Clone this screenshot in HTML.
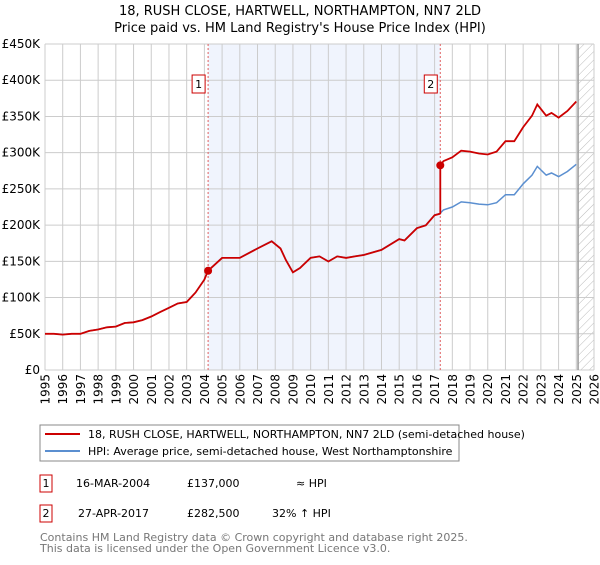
<!DOCTYPE html>
<html><head><meta charset="utf-8"><style>
body{margin:0;background:#fff;font-family:"Liberation Sans","DejaVu Sans",sans-serif}
svg text{font-family:"DejaVu Sans","Liberation Sans",sans-serif}
</style></head><body>
<svg id="chart" width="600" height="560" viewBox="0 0 600 560" xmlns="http://www.w3.org/2000/svg">
<defs><pattern id="hatch" width="6" height="6" patternUnits="userSpaceOnUse" patternTransform="rotate(45)"><line x1="0" y1="0" x2="0" y2="6" stroke="#bbb" stroke-width="1"/></pattern></defs>
<text x="300" y="15" text-anchor="middle" font-size="13" fill="#000">18, RUSH CLOSE, HARTWELL, NORTHAMPTON, NN7 2LD</text>
<text x="300" y="32" text-anchor="middle" font-size="13" fill="#000">Price paid vs. HM Land Registry's House Price Index (HPI)</text>
<g id="plot"></g>
<rect x="40" y="425" width="419" height="36" fill="#fff" stroke="#888"/>
<line x1="45" y1="434" x2="80" y2="434" stroke="#cc0000" stroke-width="2"/>
<text x="88" y="438" font-size="11">18, RUSH CLOSE, HARTWELL, NORTHAMPTON, NN7 2LD (semi-detached house)</text>
<line x1="45" y1="451" x2="80" y2="451" stroke="#5b8fd0" stroke-width="2"/>
<text x="88" y="455" font-size="11">HPI: Average price, semi-detached house, West Northamptonshire</text>
<g>
<rect x="40" y="475" width="12" height="17" fill="#fff" stroke="#cc0000"/><text x="46" y="487" text-anchor="middle" font-size="11">1</text>
<text x="76" y="487" font-size="11">16-MAR-2004</text><text x="187" y="487" font-size="11">£137,000</text><text x="296" y="487" font-size="11">≈ HPI</text></g>
<g>
<rect x="40" y="505" width="12" height="17" fill="#fff" stroke="#cc0000"/><text x="46" y="517" text-anchor="middle" font-size="11">2</text>
<text x="78" y="517" font-size="11">27-APR-2017</text><text x="187" y="517" font-size="11">£282,500</text><text x="272" y="517" font-size="11">32% ↑ HPI</text></g>
<text x="40" y="541" font-size="11" fill="#777">Contains HM Land Registry data © Crown copyright and database right 2025.</text>
<text x="40" y="552" font-size="11" fill="#777">This data is licensed under the Open Government Licence v3.0.</text>
</svg>
<script>
const hpiYears=[1995,1995.5,1996,1996.5,1997,1997.5,1998,1998.5,1999,1999.5,2000,2000.5,2001,2001.5,2002,2002.5,2003,2003.5,2004,2004.2,2005,2006,2007,2007.8,2008.3,2008.6,2009,2009.4,2010,2010.5,2011,2011.5,2012,2012.5,2013,2014,2015,2015.3,2016,2016.5,2017,2017.3,2017.5,2018,2018.5,2019,2019.5,2020,2020.5,2021,2021.5,2022,2022.5,2022.8,2023.3,2023.6,2024,2024.5,2025];
const hpiValues=[50,50,49,50,50,54,56,59,60,65,66,69,74,80,86,92,94,107,125,137,155,155,168,178,168,152,135,141,155,157,150,157,155,157,159,166,181,179,196,200,214,216,221,225,232,231,229,228,231,242,242,257,269,281,269,272,267,274,284];
const saleYears=[2004.21,2017.32];
const salePrices=[137,282.5];
const saleLabels=["1","2"];
const yTicks=[0,50,100,150,200,250,300,350,400,450];
const yTickLabels=["£0","£50K","£100K","£150K","£200K","£250K","£300K","£350K","£400K","£450K"];
const xTicks=[];for(let y=1995;y<=2026;y++)xTicks.push(y);

const X0=45,X1=594,Y0=370,Y1=44;
const xs=y=>X0+(y-1995)/(2026-1995)*(X1-X0);
const ys=v=>Y0-v/450*(Y0-Y1);
const ns="http://www.w3.org/2000/svg";
const g=document.getElementById('plot');
function mk(t,a){const e=document.createElementNS(ns,t);for(const k in a)e.setAttribute(k,a[k]);g.appendChild(e);return e;}
function hpiAt(y){for(let i=0;i<hpiYears.length-1;i++){if(y<=hpiYears[i+1]){const t=(y-hpiYears[i])/(hpiYears[i+1]-hpiYears[i]);return hpiValues[i]+t*(hpiValues[i+1]-hpiValues[i]);}}return hpiValues[hpiValues.length-1];}

let e=mk('rect',{x:xs(saleYears[0]),y:Y1,width:xs(saleYears[1])-xs(saleYears[0]),height:Y0-Y1,fill:'#f0f4fd'});


e=mk('rect',{x:xs(2025.1),y:Y1,width:X1-xs(2025.1),height:Y0-Y1,fill:'url(#hatch)'});


yTicks.forEach((v,i)=>{
 e=mk('line',{x1:X0,x2:X1,y1:ys(v),y2:ys(v),stroke:'#ccc'});
 
 
 e=mk('text',{x:X0-5,y:ys(v)+4,'text-anchor':'end','font-size':12});e.textContent=yTickLabels[i];
 
 
});
xTicks.forEach(y=>{
 e=mk('line',{x1:xs(y),x2:xs(y),y1:Y1,y2:Y0,stroke:'#ccc'});
 
 
 const tx=xs(y)+4.5;
 e=mk('text',{x:tx,y:374,'text-anchor':'end','font-size':12,transform:'rotate(-90 '+tx+' 374)'});e.textContent=y;
 
 
});
e=mk('line',{x1:xs(2025.1),x2:xs(2025.1),y1:Y1,y2:Y0,stroke:'#999','stroke-width':1.5});


saleYears.forEach((y,i)=>{
 e=mk('line',{x1:xs(y),x2:xs(y),y1:Y1,y2:Y0,stroke:'#e06060','stroke-dasharray':'2,2'});
 
 
 e=mk('rect',{x:xs(y)-16,y:75,width:13,height:18,fill:'#fff',stroke:'#cc0000'});
 
 
 e=mk('text',{x:xs(y)-9.5,y:88,'text-anchor':'middle','font-size':11});e.textContent=saleLabels[i];
 
 
});
let d='';hpiYears.forEach((y,i)=>{d+=(i?'L':'M')+xs(y).toFixed(1)+','+ys(hpiValues[i]).toFixed(1);});
e=mk('path',{d:d,fill:'none',stroke:'#5b8fd0','stroke-width':1.5});


let pts=[];
hpiYears.forEach((y,i)=>{
 let k=y<saleYears[1]?0:1;
 pts.push([y,hpiValues[i]*salePrices[k]/hpiAt(saleYears[k])]);
});
pts.push([saleYears[1]-0.001,hpiAt(saleYears[1])*salePrices[0]/hpiAt(saleYears[0])]);
pts.push([saleYears[1],salePrices[1]]);
pts.sort((a,b)=>a[0]-b[0]);
d='';pts.forEach((p,i)=>{d+=(i?'L':'M')+xs(p[0]).toFixed(1)+','+ys(p[1]).toFixed(1);});
e=mk('path',{d:d,fill:'none',stroke:'#cc0000','stroke-width':1.8});


saleYears.forEach((y,i)=>{
 e=mk('circle',{cx:xs(y),cy:ys(salePrices[i]),r:4,fill:'#cc0000'});
 
 
});
</script>
</body></html>
